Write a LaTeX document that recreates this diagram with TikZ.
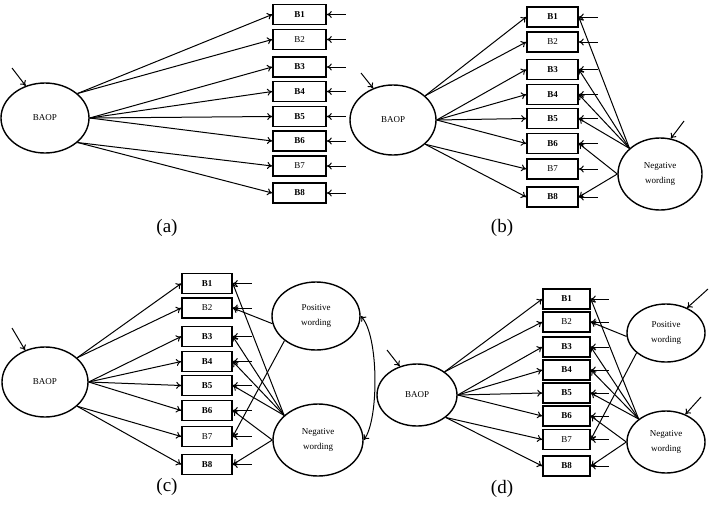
\documentclass[tikz,border=0pt]{standalone}
\usepackage{fontspec}
\setmainfont{Liberation Serif}
\usetikzlibrary{arrows.meta,shapes.geometric}
\begin{document}
\begin{tikzpicture}[x=1pt,y=-1pt,
  box/.style={draw,line width=1.6pt,minimum height=20pt,inner sep=0pt,font=\fontsize{9}{10}\selectfont},
  lat/.style={draw,ellipse,line width=1.4pt,inner sep=0pt,font=\fontsize{9}{14.5}\selectfont,align=center},
  arr/.style={line width=1pt,-{To[length=5pt,width=7pt]}},
  darr/.style={line width=1pt,{To[length=5pt,width=7pt]}-{To[length=5pt,width=7pt]}},
  lab/.style={font=\fontsize{19}{21}\selectfont}]
\useasboundingbox (0,0) rectangle (709,512);

% ---------------- (a)
\node[lat,minimum width=88pt,minimum height=70pt] (La) at (45,118) {BAOP};
\foreach \i/\y/\t in {1/14.5/\textbf{B1},2/39.5/B2,3/67/\textbf{B3},4/91.5/\textbf{B4},5/116.5/\textbf{B5},6/141/\textbf{B6},7/166/B7,8/193/\textbf{B8}}{
  \node[box,minimum width=53pt] (a\i) at (299.5,\y) {\t};
  \coordinate (ae\i) at ([xshift=19pt]a\i.east);
  \draw[arr] (ae\i) -- (a\i.east);
}
\foreach \i in {1,2} \draw[arr] (La.37) -- (a\i.west);
\foreach \i in {3,...,6} \draw[arr] (La.0) -- (a\i.west);
\foreach \i in {7,8} \draw[arr] (La.-37) -- (a\i.west);
\coordinate (ia) at (12,68);
\draw[arr] (ia) -- (La.121);
\node[lab] (la) at (167,228) {(a)};

% ---------------- (b)
\node[lat,minimum width=86pt,minimum height=70pt] (Lb) at (393,120) {BAOP};
\foreach \i/\y/\t in {1/17/\textbf{B1},2/42/B2,3/69.5/\textbf{B3},4/94.5/\textbf{B4},5/118.5/\textbf{B5},6/143.5/\textbf{B6},7/169/B7,8/197/\textbf{B8}}{
  \node[box,minimum width=51pt] (b\i) at (552.5,\y) {\t};
  \coordinate (be\i) at ([xshift=19pt]b\i.east);
  \draw[arr] (be\i) -- (b\i.east);
}
\foreach \i in {1,2} \draw[arr] (Lb.37) -- (b\i.west);
\foreach \i in {3,...,6} \draw[arr] (Lb.0) -- (b\i.west);
\foreach \i in {7,8} \draw[arr] (Lb.-37) -- (b\i.west);
\coordinate (ib) at (361,73);
\draw[arr] (ib) -- (Lb.122);
\node[lat,minimum width=84pt,minimum height=72pt] (Nb) at (660,174) {Negative\\wording};
\foreach \i in {1,3,4,5} \draw[arr] (Nb.140) -- (b\i.east);
\foreach \i in {6,8} \draw[arr] (Nb.180) -- (b\i.east);
\coordinate (inb) at (684,121);
\draw[arr] (inb) -- (Nb.73);
\node[lab] (lb) at (502,228) {(b)};

% ---------------- (c)
\node[lat,minimum width=86pt,minimum height=70pt] (Lc) at (45,382) {BAOP};
\foreach \i/\y/\t in {1/283.5/\textbf{B1},2/308/B2,3/336.5/\textbf{B3},4/361.5/\textbf{B4},5/385.5/\textbf{B5},6/410.5/\textbf{B6},7/436.5/B7,8/464.5/\textbf{B8}}{
  \node[box,minimum width=50pt] (c\i) at (207,\y) {\t};
  \coordinate (ce\i) at ([xshift=19pt]c\i.east);
  \draw[arr] (ce\i) -- (c\i.east);
}
\foreach \i in {1,2} \draw[arr] (Lc.37) -- (c\i.west);
\foreach \i in {3,...,6} \draw[arr] (Lc.0) -- (c\i.west);
\foreach \i in {7,8} \draw[arr] (Lc.-37) -- (c\i.west);
\coordinate (ic) at (12,328);
\draw[arr] (ic) -- (Lc.122);
\node[lat,minimum width=88pt,minimum height=68pt] (Pc) at (316,316) {Positive\\wording};
\node[lat,minimum width=90pt,minimum height=72pt] (Nc) at (318,440) {Negative\\wording};
\foreach \i in {2} \draw[arr] (Pc.190) -- (c\i.east);
\foreach \i in {7} \draw[arr] (Pc.218) -- (c\i.east);
\foreach \i in {1,3,4,5} \draw[arr] (Nc.144) -- (c\i.east);
\foreach \i in {6,8} \draw[arr] (Nc.180) -- (c\i.east);
\draw[darr] (Pc.0) .. controls (379,335) and (379,420) .. (Nc.0);
\node[lab] (lc) at (167,487) {(c)};

% ---------------- (d)
\node[lat,minimum width=80pt,minimum height=62pt] (Ld) at (417,395) {BAOP};
\foreach \i/\y/\t in {1/299/\textbf{B1},2/322/B2,3/347/\textbf{B3},4/370/\textbf{B4},5/393/\textbf{B5},6/416/\textbf{B6},7/439.5/B7,8/466/\textbf{B8}}{
  \node[box,minimum width=47pt] (d\i) at (566.5,\y) {\t};
  \coordinate (de\i) at ([xshift=18pt]d\i.east);
  \draw[arr] (de\i) -- (d\i.east);
}
\foreach \i in {1,2} \draw[arr] (Ld.40) -- (d\i.west);
\foreach \i in {3,...,6} \draw[arr] (Ld.0) -- (d\i.west);
\foreach \i in {7,8} \draw[arr] (Ld.-38) -- (d\i.west);
\coordinate (id) at (387,350);
\draw[arr] (id) -- (Ld.121);
\node[lat,minimum width=78pt,minimum height=58pt] (Pd) at (666,333) {Positive\\wording};
\node[lat,minimum width=78pt,minimum height=62pt] (Nd) at (666,442) {Negative\\wording};
\foreach \i in {2} \draw[arr] (Pd.185) -- (d\i.east);
\foreach \i in {7} \draw[arr] (Pd.214) -- (d\i.east);
\foreach \i in {1,3,4,5} \draw[arr] (Nd.140) -- (d\i.east);
\foreach \i in {6,8} \draw[arr] (Nd.180) -- (d\i.east);
\coordinate (ipd) at (708,289);
\draw[arr] (ipd) -- (Pd.50);
\coordinate (ind) at (701,397);
\draw[arr] (ind) -- (Nd.55);
\node[lab] (ld) at (502,489) {(d)};
\end{tikzpicture}
\end{document}
